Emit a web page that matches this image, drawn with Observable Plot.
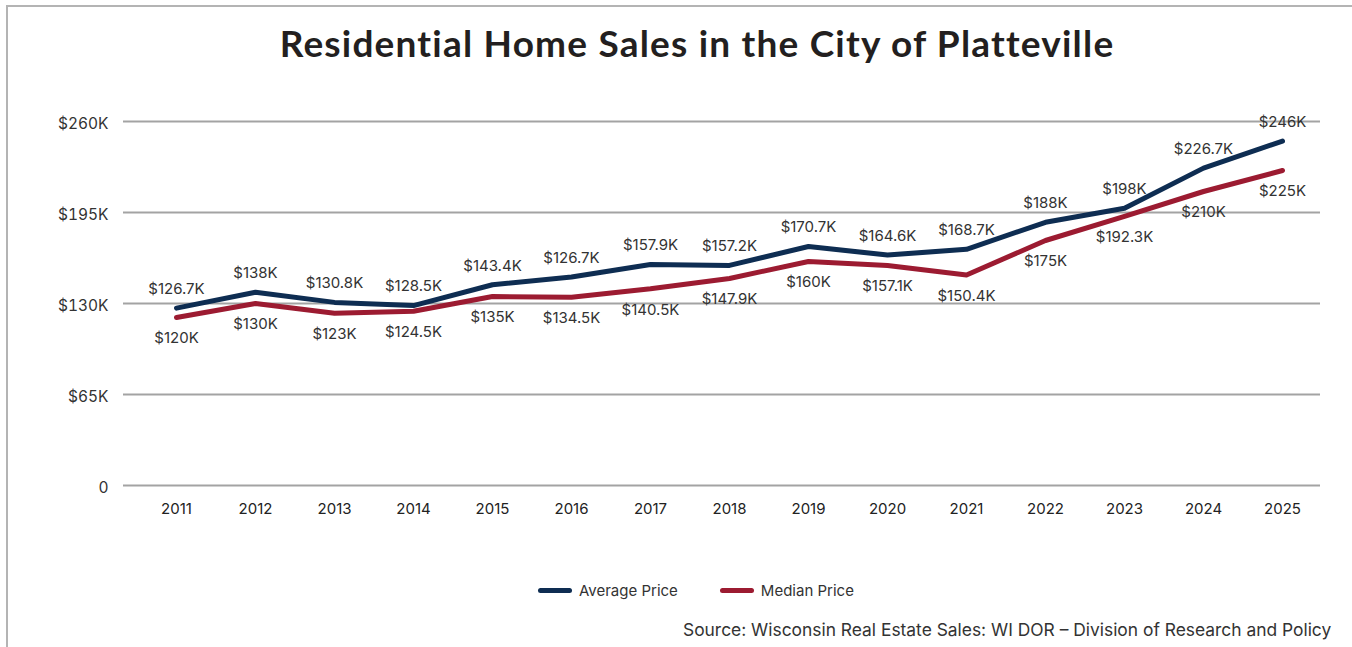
<!DOCTYPE html>
<html>
<head>
<meta charset="utf-8">
<script src="https://cdn.jsdelivr.net/npm/d3@7"></script>
<script src="https://cdn.jsdelivr.net/npm/@observablehq/plot@0.6"></script>
<style>
  html, body { margin: 0; padding: 0; background: #fff; }
  #page { position: relative; width: 1352px; height: 647px; overflow: hidden; background: #fff; font-family: Inter, "Noto Sans", sans-serif; color: #333; }
  #frame { position: absolute; left: 6px; top: 5px; width: 1400px; height: 700px; border-top: 2px solid #b4b4b4; border-left: 2px solid #b4b4b4; }
  #title { position: absolute; left: 697px; top: 20px; transform: translateX(-50%); white-space: nowrap; font-family: Lato, Inter, sans-serif; font-weight: 700; font-size: 37px; letter-spacing: 1.2px; color: #231f20; }
  #chart { position: absolute; left: 0; top: 100px; }
  #legend { position: absolute; top: 581px; left: 538px; display: flex; align-items: center; font-size: 15px; color: #333; white-space: nowrap; }
  .sw { display: inline-block; width: 34px; height: 5px; border-radius: 3px; margin-right: 7px; }
  .item { display: flex; align-items: center; margin-right: 42px; }
  #source { position: absolute; left: 683px; top: 619px; font-size: 17.4px; color: #333; white-space: nowrap; }
</style>
</head>
<body>
<div id="page">
  <div id="frame"></div>
  <div id="title"></div>
  <div id="chart"></div>
  <div id="legend"></div>
  <div id="source"></div>
</div>
<script>
const titleText = "Residential Home Sales in the City of Platteville";
const sourceText = "Source: Wisconsin Real Estate Sales: WI DOR – Division of Research and Policy";
const years = ["2011","2012","2013","2014","2015","2016","2017","2018","2019","2020","2021","2022","2023","2024","2025"];
const avgValues = [126.7, 138, 130.8, 128.5, 143.4, 148.9, 157.9, 157.2, 170.7, 164.6, 168.7, 188, 198, 226.7, 246];
const avgLabels = ["$126.7K","$138K","$130.8K","$128.5K","$143.4K","$126.7K","$157.9K","$157.2K","$170.7K","$164.6K","$168.7K","$188K","$198K","$226.7K","$246K"];
const medValues = [120, 130, 123, 124.5, 135, 134.5, 140.5, 147.9, 160, 157.1, 150.4, 175, 192.3, 210, 225];
const medLabels = ["$120K","$130K","$123K","$124.5K","$135K","$134.5K","$140.5K","$147.9K","$160K","$157.1K","$150.4K","$175K","$192.3K","$210K","$225K"];
const yTicks = [0, 65, 130, 195, 260];
const yTickLabels = ["0", "$65K", "$130K", "$195K", "$260K"];
const seriesNames = ["Average Price", "Median Price"];
const seriesColors = ["#0e2d52", "#9c1b31"];

const rows = [];
years.forEach((y, i) => {
  rows.push({year: y, value: avgValues[i], label: avgLabels[i], series: seriesNames[0]});
  rows.push({year: y, value: medValues[i], label: medLabels[i], series: seriesNames[1]});
});
const avgRows = rows.filter(d => d.series === seriesNames[0]);
const medRows = rows.filter(d => d.series === seriesNames[1]);

document.getElementById("title").textContent = titleText;
document.getElementById("source").textContent = sourceText;

const plot = Plot.plot({
  width: 1352,
  height: 425,
  marginTop: 21,
  marginBottom: 40,
  marginLeft: 123,
  marginRight: 32,
  style: { fontFamily: "Inter, 'Noto Sans', sans-serif", fontSize: "15px", color: "#333", background: "transparent" },
  x: { type: "point", domain: years, range: [173, 1284], padding: 0, label: null },
  y: { domain: [0, 260], label: null },
  color: { domain: seriesNames, range: seriesColors },
  marks: [
    Plot.ruleY(yTicks, { stroke: "#a3a3a3", strokeWidth: 2 }),
    Plot.axisY({ ticks: yTicks, tickFormat: (d) => yTickLabels[yTicks.indexOf(d)], tickSize: 0, tickPadding: 15, label: null, fontSize: 15.5, fill: "#333", dy: 3 }),
    Plot.axisX({ tickSize: 0, tickPadding: 18, label: null, fontSize: 15, fill: "#222" }),
    Plot.line(rows, { x: "year", y: "value", z: "series", stroke: "series", strokeWidth: 5, strokeLinecap: "round", strokeLinejoin: "round" }),
    Plot.text(avgRows, { x: "year", y: "value", text: "label", dy: -19, fill: "#333", fontSize: 15 }),
    Plot.text(medRows, { x: "year", y: "value", text: "label", dy: 21, fill: "#333", fontSize: 15 })
  ]
});
document.getElementById("chart").appendChild(plot);

const legend = document.getElementById("legend");
seriesNames.forEach((name, i) => {
  const item = document.createElement("span");
  item.className = "item";
  const sw = document.createElement("span");
  sw.className = "sw";
  sw.style.background = seriesColors[i];
  item.appendChild(sw);
  item.appendChild(document.createTextNode(name));
  legend.appendChild(item);
});
</script>
</body>
</html>
